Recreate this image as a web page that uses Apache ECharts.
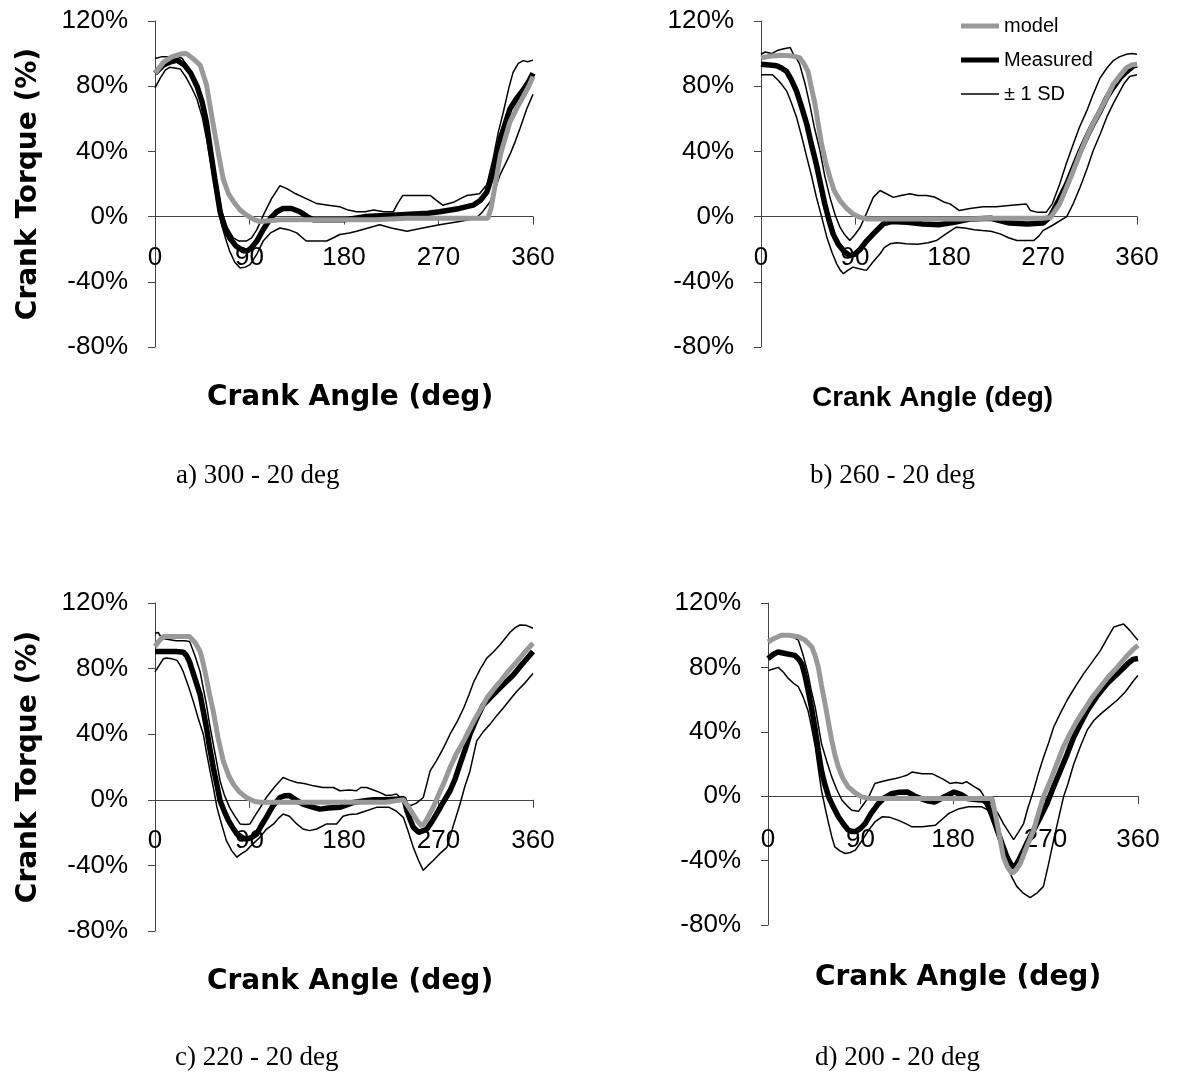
<!DOCTYPE html>
<html><head><meta charset="utf-8">
<script src="https://cdn.jsdelivr.net/npm/echarts@6/dist/echarts.min.js"></script>
<style>html,body{margin:0;padding:0;background:#fff}#c{width:1178px;height:1081px}</style>
</head><body><div id="c"></div>
<script>
// ---- axis definitions ----
const xMin = 0, xMax = 360, xStep = 90;
const yMin = -80, yMax = 120, yStep = 40;
const seriesNames = ['model', 'Measured', '± 1 SD'];
const yTitle = 'Crank Torque (%)';
const xTitle = 'Crank Angle (deg)';
const captions = ['a) 300 - 20 deg', 'b) 260 - 20 deg', 'c) 220 - 20 deg', 'd) 200 - 20 deg'];

// ---- data: [crank angle (deg), torque (%)] ----
const aModel = [[0,88],[8,94.6],[16,98],[24,99.7],[30,100],[36,97],[43,93],[49,81],[55,58],[60,40],[65,23],[70,14],[75,9],[81,4],[87,1],[95,-2],[100,-3],[120,-2],[150,-2],[180,-2],[210,-2],[240,-1],[270,-1],[300,-1],[317,-1],[320,5],[324,19.5],[329,38],[338,58],[345,67],[351,74],[356,80],[360,86]];
const aMeas = [[0,88],[8,93],[15,95],[21,96],[28,93],[34,88],[40,80],[45,70],[49,58],[53,40],[57,23],[62,3],[66,-6],[71,-13],[77,-18],[84,-21],[88,-21],[92,-19],[97,-15],[103,-8],[110,-1],[116,3],[122,5],[130,5],[138,3],[145,0],[151,-2],[165,-2],[180,-2],[200,0],[230,1],[260,2],[271,3],[290,5],[303,7],[310,10],[316,15],[322,27],[329,48],[338,66],[345,73],[351,78],[356,83],[360,88]];
const aUp = [[0,97],[6,98],[12,98],[19,99],[26,97],[31,92],[36.5,84.5],[42,75],[47.6,64],[52,48],[55.5,34],[60,17],[63.5,3],[69,-7],[74.6,-13],[80,-15],[87,-15],[92,-13],[97,-8],[104,2],[111,11],[119,19],[126,17],[134,14],[144,11],[154,8],[165,7],[176,6],[184,4],[192,3],[200,3],[208,4],[218,3],[227,3],[231,8],[236,13],[250,13],[262,13],[268,10],[274,7],[285,9],[297,13],[309,14],[316,19.5],[322,35.6],[327,52],[331.7,64],[337,79],[341,88.5],[346,94],[350.8,95.7],[355,95],[360,96]];
const aLow = [[0,79],[5,85],[10,90],[14,91.6],[20,91],[24,90.6],[30,85],[35,79],[40,72],[45,61],[49,48],[53,33],[57,17],[60,6],[63.5,-5],[67,-13],[71,-21],[76,-28],[81,-31.5],[86,-31],[90.5,-29.5],[97,-23],[103,-15],[110,-10],[119,-7],[127,-8],[135,-10],[144,-15],[155,-15],[163.5,-15],[170,-13],[176,-11],[185,-10],[192,-9],[203,-7],[214,-5],[225,-7],[240,-9],[255,-7],[271,-5],[290,-3],[306,-1],[312,3],[319,9],[324,17],[328.6,25.6],[338,38],[343,46],[347.6,54],[354,66],[360,75]];

const bModel = [[0,97.5],[10,98.5],[20,99],[30,98.5],[37,97.5],[41,94],[45,89],[48,80],[51.7,69],[55,56],[58,44.5],[62,33],[66,24],[70,16],[75.6,9.8],[82,5],[88,1.6],[95,-0.5],[101,-1.4],[130,-1.5],[160,-1.5],[190,-1.5],[220,-1],[250,-1],[270,-1],[277,-0.5],[281,3],[286,7.8],[292,17],[299,28],[305,38],[311.8,48.6],[318,57],[324.6,65],[331,73],[337,81],[343,86],[350,91.4],[355,93],[360,93.5]];
const bMeas = [[0,93.5],[8,93],[15,92.5],[20,91],[24.6,89],[29,84],[34,77],[39,67],[43.7,57],[48,45],[53,32],[57,20],[61,8],[65,-2],[69,-10.6],[74,-17],[79,-21],[85,-24],[90,-23],[95,-20],[101,-15],[107.5,-10.6],[117,-4.5],[125,-3],[140,-3.5],[155,-4.5],[170,-5],[185,-3.5],[200,-1.5],[220,-1],[238,-4],[255,-4.5],[270,-4],[277,0],[285,10],[292.7,20],[299,30],[305.5,40],[312,49],[318,56.8],[325,65],[331,73],[337,79],[343.7,85],[350,89],[356.5,92.5],[360,93]];
const bUp = [[0,99.6],[4,101],[10,100],[16,102],[22,103],[28,103.7],[31,99.6],[34,97],[37,93.5],[42,82],[46.6,69],[51,55],[56.5,40.4],[61,25],[66,11.8],[71,1],[75.6,-6.5],[80,-11],[85,-14.7],[90,-11],[95,-6.5],[101,2],[107.5,11.8],[114,16],[120,14],[126.7,11.8],[134,13],[142.7,14],[150,13],[158.6,13],[166,12],[175,9],[181,7.8],[190,3.7],[200,5],[212.6,6],[225,6],[240,7],[254,7.8],[258,3.7],[265,2.6],[273,2.6],[279,8],[286,20],[292,32],[299,44.5],[305,55],[312,65],[318,75],[324.6,85],[331,91],[337,95.5],[343,98],[350,99.6],[355,100],[360,99.6]];
const bLow = [[0,87],[6,87],[11,87],[16,84],[20,81],[24.6,77],[29,70],[34,61],[39,49],[44,36],[48,26],[53,12],[58,0],[63,-12.6],[68,-22],[72.5,-29],[76,-33],[79,-35],[83,-33],[88,-31],[94,-32],[101,-33],[107,-28],[114,-22.8],[118,-19],[123.5,-16.7],[130,-16],[139,-16.7],[150,-17],[160,-16],[168,-14.7],[176,-11],[187,-6.5],[195,-7],[204,-8],[212,-8.6],[220,-9],[229,-10.6],[237,-13],[245,-14.7],[261,-14.7],[266,-12],[270,-8.6],[280,-5],[292.7,0],[299,8],[305.5,18],[312,29],[318,40.4],[325,51],[331,61],[337,69],[343.7,77],[348,82],[353,86],[360,87]];

const cModel = [[0,93.5],[4,97],[8,99.5],[20,99.5],[33,99.5],[38,96],[43,90.4],[46,83],[49,74],[52,64],[55.5,54],[60,38],[65,23.7],[70,15],[74.6,9.5],[80,5],[87,1.4],[95,-1],[100,-1.5],[130,-1.5],[160,-1.5],[190,-1.5],[220,-1.5],[230,-0.5],[236.5,0],[240,-3],[245,-8],[250,-13],[254,-16],[258,-13],[262,-8],[265,-4.6],[270,3],[275,10],[281,19.7],[287,28],[294,35.8],[298,41],[303.6,48],[310,55],[316,62],[322,67],[328.6,72],[336,78],[344.4,84],[352,90],[360,95.5]];
const cMeas = [[0,90.4],[10,90.4],[20,90.4],[27,90],[30,88],[33,84],[38,74],[43,64],[46,54],[49,44],[52,32],[55.5,19.7],[59,9],[62,-0.6],[66,-7],[70,-12.7],[74,-17],[78,-20.8],[83,-23],[87,-24],[92,-23],[97,-20.8],[101,-16],[106,-10.7],[112,-4],[119,1.4],[124,2.5],[128,2.6],[134,0],[141,-2.6],[150,-4.5],[157,-5.7],[165,-5],[176,-4.6],[189,-1.6],[200,-0.5],[208,0],[220,0],[232,0.5],[237,0.8],[240,-6.7],[243,-12],[246,-16.8],[251,-19.8],[255,-19],[259,-17.8],[264,-13],[268,-8.7],[274,-2],[281,5.5],[286,13],[290.5,21.7],[295,30],[300,40],[306,49],[312.7,58],[319,62],[325,66],[333,71],[341,76],[350,83],[360,90.4]];
const cUp = [[0,101.6],[3,102],[6,99],[10,98],[20,97],[28,97],[33,96.5],[38,88],[43,78],[46,68],[49,58],[52,46],[55.5,34],[59,22],[62,11.5],[66,3],[71,-4.6],[76,-10],[81,-14.7],[86,-15],[90.5,-14.7],[95,-10],[100,-5],[106,1.4],[114,8],[122,13.6],[128,12],[135,10.5],[142,10],[151,8.5],[160,7.5],[170,7.5],[176,5.5],[185,6],[192,5.5],[196,7.5],[201.6,7.5],[208,6],[214,4.5],[220,2.6],[226,3],[230,3.5],[236.5,-0.4],[243,-3.6],[249,-2],[255.5,1.4],[259,10],[262,17.6],[268,23.7],[275,32],[281,40],[288,48],[294,56],[299,64],[303.6,72],[310,80],[316,86.4],[322,90],[328.6,94.5],[333,98],[338,102],[343,105],[347.6,106.6],[353,106.5],[360,104.6]];
const cLow = [[0,78],[4,82],[8,86],[11,86.4],[16,86],[21,85],[24,82],[27,78],[32,69],[36.5,60],[41,50],[46,40],[49,29],[52.4,17.6],[56,6],[59,-4.6],[63,-14],[68,-24.9],[73,-31],[78,-35],[82,-33],[87,-31],[93,-27],[100,-22.8],[106,-18],[113,-14.7],[118,-11],[122,-8.7],[128,-10],[135,-14.7],[141,-17.8],[147,-18.8],[154,-17.8],[163.5,-14.7],[173,-14.7],[179,-10],[185,-9],[192,-8.7],[200,-7],[211,-4.6],[223,-4.6],[230,-7],[236.5,-10.7],[241,-19],[246,-29],[251,-37],[255.5,-43],[260,-40],[265,-37],[271,-33],[278,-29],[284,-16],[290.5,-2.6],[295,8],[300,17.6],[306.3,35.8],[312,41],[319,46],[325,51],[331.7,56],[338,61],[344.4,66],[352,71],[360,77]];

const dModel = [[0,95.8],[6,98],[13,100],[20,100],[29.5,99],[36,97],[42.6,92.7],[46,87],[49,80],[52,69],[55.5,57.5],[59,45],[62,34.8],[65,26],[68.5,18],[73,11],[78,5.8],[85,2],[91,-0.4],[100,-1.5],[130,-1.5],[160,-1.5],[190,-1.5],[210,-1.5],[218,-1.5],[223,-17],[229,-37.7],[233,-44],[237.4,-48],[241,-46],[245.5,-41.8],[252,-31],[258.5,-21],[263,-11],[268,-0.4],[275,10],[281,20],[287,30],[294,39],[300,46],[307,53],[315,61],[323.5,68],[331,74],[339.7,80],[349,87],[355,91],[360,93.7]];
const dMeas = [[0,85.5],[5,88],[9.7,89.6],[18,88.5],[26,87.5],[30,85],[33,82],[36,75],[39,65.8],[42,56],[46,41],[49,28],[52,16],[55,8],[59,-0.4],[63,-6],[68.5,-12.8],[73,-17],[78,-21],[82,-22],[85,-22],[90,-20],[94.5,-17],[100,-11],[107.5,-4.5],[113,-1],[120,1.5],[128,2.5],[136,2.6],[143,0],[149,-1.5],[156,-3],[162,-3.6],[170,-1],[181,2.6],[188,1],[194,-1.5],[202,-2],[210,-2.5],[213,-4.5],[218,-12],[223,-21],[228,-30],[232.5,-37.7],[236,-42],[239,-44],[242,-42],[245.5,-37.7],[252,-29],[258.5,-21],[265,-13],[271.5,-4.5],[278,6],[284.5,16],[291,26],[297.5,36.8],[304,45],[310.5,53],[320,62],[330,70],[340,76],[349.5,82],[355,85],[360,85.5]];
const dUp = [[0,96],[8,98],[16,100],[24,99],[29.5,97],[34,88],[39,76],[42,66],[46,55],[49,44],[52,32.7],[57,22],[62,12],[67,4],[72,-2.5],[77,-6],[81.5,-8.7],[88,-9.4],[93,-5],[98,-0.4],[104,7.9],[110,9],[117,10],[124,11],[130,12],[135,13],[140,15],[150,14],[159.5,14],[166,12],[172,10],[177,7.9],[183,8.5],[188.7,7.9],[193,9],[201,5.8],[206.5,3.7],[210,0],[215,-3],[219.5,-6.6],[224,-11],[229,-17],[234,-22],[239,-27],[244,-22],[248.7,-17],[253,-7],[258.5,3.7],[263,14],[268,24],[273,33],[278,43],[284,51],[291,59.6],[299,68],[307,76],[315,83],[323.5,90.6],[330,98],[336.4,105],[341,106],[346,107],[352,103],[357,99],[360,96.8]];
const dLow = [[0,78],[5,79],[10,80],[15,77],[20,73],[25,70],[29.5,68],[34,62],[39,53],[42,44],[46,30.6],[49,17],[52,3.7],[55.5,-7],[59,-17],[62,-25],[65,-31.5],[70,-34],[75,-35.6],[80,-35],[85,-33.5],[91,-28],[98,-21],[104,-16],[111,-12.8],[118,-13],[127,-15],[134,-17],[140,-19],[150,-19],[163,-18],[170,-14],[176,-10.7],[185,-8],[195,-6.6],[208,-6.6],[215,-9],[223,-17],[228,-30],[232.5,-41.8],[237,-50],[242,-56],[248,-60],[255,-63],[262,-60],[268,-56],[273,-42],[278,-27],[283,-13],[287.7,0],[292,8],[297.5,20],[304,31],[310.5,41],[317,47],[323.5,51],[331,55],[339.7,59.6],[348,65],[356,72],[360,75]];

// ---- layout / styling ----
const panels = [
  {series:[aModel,aMeas,aUp,aLow], grid:{left:155,top:21,width:378,height:326}, yName:true, xLabelGap:28,
   xTitle:{left:207,top:384,font:'DejaVu Sans'}, cap:{left:176,top:462}},
  {series:[bModel,bMeas,bUp,bLow], grid:{left:761,top:21,width:376,height:326}, yName:false, xLabelGap:28,
   xTitle:{left:812,top:384,font:'Liberation Sans'}, cap:{left:810,top:462}},
  {series:[cModel,cMeas,cUp,cLow], grid:{left:155,top:603,width:378,height:328}, yName:true, xLabelGap:28,
   xTitle:{left:207,top:968,font:'DejaVu Sans'}, cap:{left:175,top:1044}},
  {series:[dModel,dMeas,dUp,dLow], grid:{left:768,top:603,width:370,height:322}, yName:false, xLabelGap:31,
   xTitle:{left:815,top:964,font:'DejaVu Sans'}, cap:{left:815,top:1044}}
];
const MODEL_COLOR = '#999999', MEAS_COLOR = '#000000', SD_COLOR = '#000000';
const AXIS_COLOR = '#444444';
const tickFont = {fontFamily:'Liberation Sans, Arial, sans-serif', fontSize:26, color:'#000'};
const zeroFrac = (0 - yMin) / (yMax - yMin); // share of plot height below the 0 line

const grids = [], xAxes = [], yAxes = [], series = [], titles = [];
panels.forEach((p, i) => {
  grids.push(Object.assign({containLabel:false}, p.grid));
  xAxes.push({
    type:'value', gridIndex:i, min:xMin, max:xMax, interval:xStep,
    axisLine:{show:true, onZero:true, lineStyle:{color:AXIS_COLOR, width:1}},
    axisTick:{show:true, length:8, lineStyle:{color:AXIS_COLOR}},
    axisLabel:Object.assign({margin: Math.round(p.xLabelGap - p.grid.height * zeroFrac), showMinLabel:true, showMaxLabel:true, hideOverlap:false}, tickFont),
    splitLine:{show:false}
  });
  yAxes.push({
    type:'value', gridIndex:i, min:yMin, max:yMax, interval:yStep,
    axisLine:{show:true, onZero:false, lineStyle:{color:AXIS_COLOR, width:1}},
    axisTick:{show:true, length:7, lineStyle:{color:AXIS_COLOR}},
    axisLabel:Object.assign({margin:27, formatter:'{value}%'}, tickFont),
    splitLine:{show:false},
    name: p.yName ? yTitle : '',
    nameLocation:'middle', nameRotate:90, nameGap:112,
    nameTextStyle:{fontFamily:'DejaVu Sans', fontWeight:'bold', fontSize:28, color:'#000'}
  });
  const [m, me, up, lo] = p.series;
  const base = {type:'line', xAxisIndex:i, yAxisIndex:i, symbol:'none', showSymbol:false, animation:false, silent:true};
  series.push(Object.assign({}, base, {name:seriesNames[2], data:up, color:SD_COLOR, lineStyle:{color:SD_COLOR, width:1.5}, z:2}));
  series.push(Object.assign({}, base, {name:seriesNames[2], data:lo, color:SD_COLOR, lineStyle:{color:SD_COLOR, width:1.5}, z:2}));
  series.push(Object.assign({}, base, {name:seriesNames[1], data:me, color:MEAS_COLOR, lineStyle:{color:MEAS_COLOR, width:5.5}, z:3}));
  series.push(Object.assign({}, base, {name:seriesNames[0], data:m, color:MODEL_COLOR, lineStyle:{color:MODEL_COLOR, width:5}, z:4}));
  titles.push({text:xTitle, left:p.xTitle.left, top:p.xTitle.top, padding:0,
    textStyle:{fontFamily:p.xTitle.font, fontWeight:'bold', fontSize:28, lineHeight:28, color:'#000'}});
  titles.push({text:captions[i], left:p.cap.left, top:p.cap.top, padding:0,
    textStyle:{fontFamily:'Liberation Serif, Times New Roman, serif', fontWeight:'normal', fontSize:27, lineHeight:28, color:'#000'}});
});

const legendText = {fontFamily:'Liberation Sans, Arial, sans-serif', fontSize:20, color:'#000'};
const legends = [
  {name:seriesNames[0], top:16, h:5, color:MODEL_COLOR},
  {name:seriesNames[1], top:50, h:5, color:MEAS_COLOR},
  {name:seriesNames[2], top:84, h:1.5, color:SD_COLOR}
].map(l => ({
  show:true, orient:'vertical', left:961, top:l.top, padding:0, selectedMode:false,
  itemWidth:38, itemHeight:l.h, itemGap:0,
  data:[{name:l.name, icon:'rect', itemStyle:{color:l.color, borderWidth:0}}],
  itemStyle:{borderWidth:0},
  textStyle:legendText
}));

const chart = echarts.init(document.getElementById('c'), null, {renderer:'canvas'});
chart.setOption({
  backgroundColor:'#ffffff',
  animation:false,
  title:titles,
  legend:legends,
  grid:grids, xAxis:xAxes, yAxis:yAxes, series:series
});
</script></body></html>
